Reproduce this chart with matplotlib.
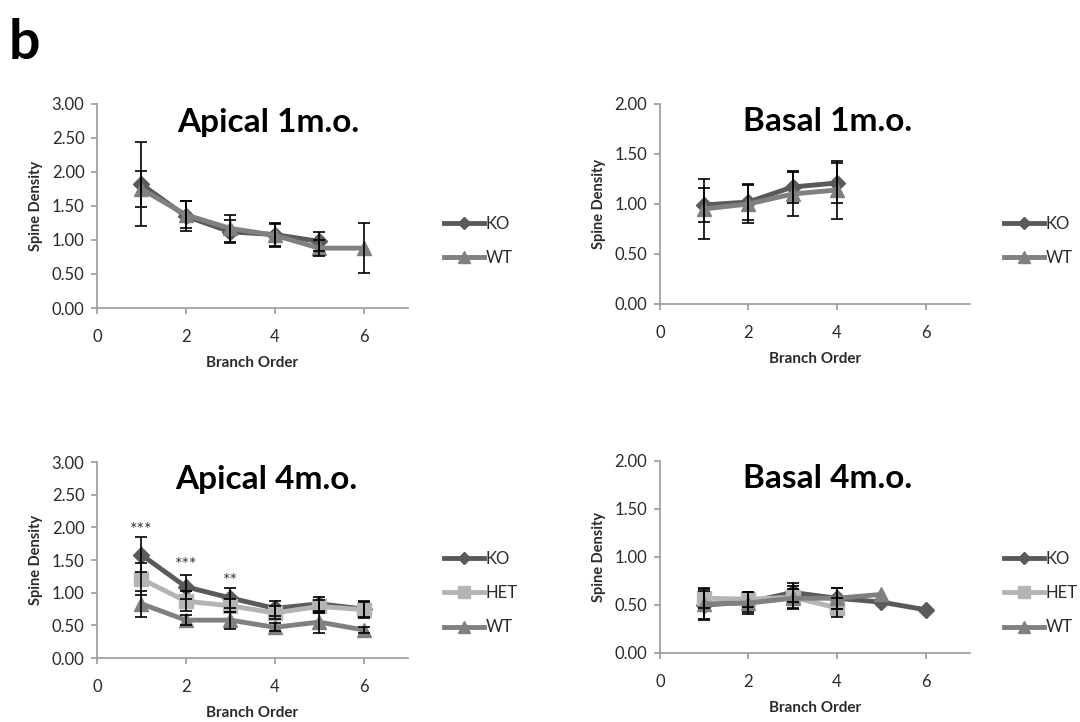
import matplotlib
matplotlib.use("Agg")
import matplotlib.pyplot as plt
import numpy as np

plt.rcParams['font.family'] = ['Lato', 'DejaVu Sans']

# branch orders
x6 = [1, 2, 3, 4, 5, 6]
x5 = [1, 2, 3, 4, 5]
x4 = [1, 2, 3, 4]

# Apical 1 m.o.
ap1_ko = [1.82, 1.35, 1.12, 1.08, 0.98]
ap1_ko_err = [0.62, 0.22, 0.17, 0.17, 0.14]
ap1_wt = [1.75, 1.37, 1.17, 1.07, 0.88, 0.88]
ap1_wt_err = [0.26, 0.20, 0.20, 0.17, 0.12, 0.37]

# Basal 1 m.o.
ba1_ko = [0.99, 1.02, 1.17, 1.21]
ba1_ko_err = [0.17, 0.18, 0.16, 0.20]
ba1_wt = [0.95, 1.00, 1.10, 1.14]
ba1_wt_err = [0.30, 0.19, 0.22, 0.29]

# Apical 4 m.o.
ap4_ko = [1.58, 1.09, 0.92, 0.76, 0.83, 0.75]
ap4_ko_err = [0.27, 0.18, 0.15, 0.12, 0.11, 0.12]
ap4_het = [1.21, 0.87, 0.80, 0.69, 0.79, 0.74]
ap4_het_err = [0.25, 0.15, 0.10, 0.10, 0.10, 0.12]
ap4_wt = [0.83, 0.58, 0.58, 0.47, 0.55, 0.43]
ap4_wt_err = [0.20, 0.08, 0.13, 0.06, 0.16, 0.05]
ap4_stars = ['***', '***', '**']
ap4_star_y = [1.96, 1.42, 1.18]

# Basal 4 m.o.
ba4_ko = [0.50, 0.53, 0.63, 0.57, 0.53, 0.45]
ba4_ko_err = [0.15, 0.10, 0.10, 0.11]
ba4_het = [0.57, 0.56, 0.58, 0.47]
ba4_het_err = [0.10, 0.08, 0.12, 0.10]
ba4_wt = [0.51, 0.52, 0.57, 0.57, 0.61]
ba4_wt_err = [0.17, 0.11, 0.10, 0.11]

c_ko = '#5a5a5a'
c_het = '#b4b4b4'
c_wt = '#808080'
axis_col = '#9a9a9a'
txt_col = '#2a2a2a'

fig = plt.figure(figsize=(10.8, 7.22), dpi=100)

pos = {
    'TL': [0.0898, 0.5734, 0.288, 0.2826],
    'TR': [0.611, 0.579, 0.287, 0.277],
    'BL': [0.0898, 0.0886, 0.288, 0.2715],
    'BR': [0.611, 0.0956, 0.287, 0.266],
}


def style(ax, ymax, title, tx):
    ax.set_xlim(0, 7)
    ax.set_ylim(0, ymax)
    ax.set_xticks([0, 2, 4, 6])
    ax.set_yticks(np.arange(0, ymax + 0.01, 0.5))
    ax.set_yticklabels(['%.2f' % v for v in np.arange(0, ymax + 0.01, 0.5)])
    for s in ['top', 'right']:
        ax.spines[s].set_visible(False)
    for s in ['left', 'bottom']:
        ax.spines[s].set_color(axis_col)
        ax.spines[s].set_linewidth(1.2)
    ax.tick_params(colors=axis_col, labelcolor=txt_col, labelsize=12, length=4, width=1.2)
    ax.tick_params(axis='x', pad=11)
    ax.tick_params(axis='y', pad=5)
    ax.set_xlabel('Branch Order', fontsize=11, fontweight='bold', color=txt_col, labelpad=8)
    ax.set_ylabel('Spine Density', fontsize=10.5, fontweight='bold', color=txt_col, labelpad=6)
    ax.text(tx, 0.91, title, transform=ax.transAxes, ha='center', va='center',
            fontsize=24, fontweight='bold', color='black')


def series(ax, x, y, err, color, marker, ms, label):
    ax.plot(x, y, color=color, lw=3.5, marker=marker, ms=ms, label=label, zorder=3)
    if err is not None:
        n = len(err)
        ax.errorbar(x[:n], y[:n], yerr=err, fmt='none', ecolor='black',
                    elinewidth=1.2, capsize=4, capthick=1.2, zorder=4)


def legend(ax, anchor):
    ax.legend(loc='upper left', bbox_to_anchor=anchor, bbox_transform=fig.transFigure,
              frameon=False, handlelength=2.4, handletextpad=0.1, labelspacing=1.1,
              fontsize=12, labelcolor=txt_col, markerscale=0.8)


# Apical 1 m.o.
ax = fig.add_axes(pos['TL'])
series(ax, x5, ap1_ko, ap1_ko_err, c_ko, 'D', 8, 'KO')
series(ax, x6, ap1_wt, ap1_wt_err, c_wt, '^', 10, 'WT')
style(ax, 3.0, 'Apical 1m.o.', 0.55)
legend(ax, (0.397, 0.722))

# Basal 1 m.o.
ax = fig.add_axes(pos['TR'])
series(ax, x4, ba1_ko, ba1_ko_err, c_ko, 'D', 8, 'KO')
series(ax, x4, ba1_wt, ba1_wt_err, c_wt, '^', 10, 'WT')
style(ax, 2.0, 'Basal 1m.o.', 0.54)
legend(ax, (0.916, 0.722))

# Apical 4 m.o.
ax = fig.add_axes(pos['BL'])
series(ax, x6, ap4_ko, ap4_ko_err, c_ko, 'D', 8, 'KO')
series(ax, x6, ap4_het, ap4_het_err, c_het, 's', 10, 'HET')
series(ax, x6, ap4_wt, ap4_wt_err, c_wt, '^', 10, 'WT')
for i, s in enumerate(ap4_stars):
    ax.text(x6[i], ap4_star_y[i], s, ha='center', va='center', fontsize=13,
            color='#3a3a3a')
style(ax, 3.0, 'Apical 4m.o.', 0.545)
legend(ax, (0.397, 0.258))

# Basal 4 m.o.
ax = fig.add_axes(pos['BR'])
series(ax, x6, ba4_ko, ba4_ko_err, c_ko, 'D', 8, 'KO')
series(ax, x4, ba4_het, ba4_het_err, c_het, 's', 10, 'HET')
series(ax, x5, ba4_wt, ba4_wt_err, c_wt, '^', 10, 'WT')
style(ax, 2.0, 'Basal 4m.o.', 0.54)
legend(ax, (0.916, 0.258))

fig.text(0.008, 0.975, 'b', fontsize=40, fontweight='bold', va='top', ha='left')

fig.savefig('out.png', dpi=100)
